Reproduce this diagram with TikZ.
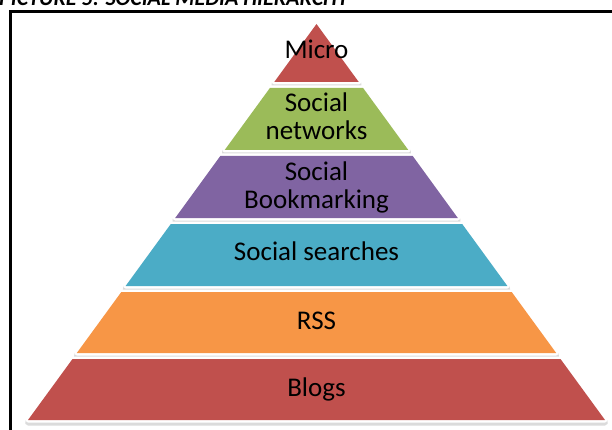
\documentclass[tikz,border=0pt]{standalone}
\usepackage{fontspec}
\setmainfont{Carlito}
\definecolor{cRed}{HTML}{C0504D}
\definecolor{cGreen}{HTML}{9BBB59}
\definecolor{cPurple}{HTML}{8064A2}
\definecolor{cBlue}{HTML}{4BACC6}
\definecolor{cOrange}{HTML}{F79646}
\tikzset{
  pMicro/.style={insert path={(316.5,24) -- (358.75,82) -- (274.25,82) -- cycle}},
  pNet/.style={insert path={(269.9,88) -- (363.1,88) -- (408.3,150) -- (224.7,150) -- cycle}},
  pBook/.style={insert path={(220.3,156) -- (412.7,156) -- (457.8,218) -- (175.2,218) -- cycle}},
  pSearch/.style={insert path={(170.8,224) -- (462.2,224) -- (507.4,286) -- (125.6,286) -- cycle}},
  pRss/.style={insert path={(121.3,292) -- (511.7,292) -- (556.2,353) -- (76.8,353) -- cycle}},
  pBlogs/.style={insert path={(72.5,359) -- (560.5,359) -- (605,420) -- (28,420) -- cycle}},
  shadowpath/.style={fill=black!14, draw=black!14, line width=6pt, line join=round, yshift=-2.5pt},
  outlinepath/.style={fill=white, draw=white, line width=5pt, line join=round},
  lbl/.style={font=\fontsize{27pt}{28pt}\selectfont, text=black, inner sep=0pt, align=center},
}
\begin{document}
\begin{tikzpicture}[x=1pt,y=-1pt]
\clip (0,0) rectangle (612,430);
\fill[white] (0,0) rectangle (612,430);
% title (partly cut off at the top)
\node[anchor=base west, inner sep=0pt, font=\fontsize{22pt}{24pt}\selectfont\bfseries\itshape] (title) at (-1,5.5) {PICTURE 5: SOCIAL MEDIA HIERARCHY};
% frame
\draw[line width=2.5pt] (640,11.5) -- (10.5,11.5) -- (10.5,460);
% shadows
\foreach \p in {pMicro,pNet,pBook,pSearch,pRss,pBlogs} {\path[shadowpath,\p];}
% white outlines
\foreach \p in {pMicro,pNet,pBook,pSearch,pRss,pBlogs} {\path[outlinepath,\p];}
% fills
\fill[cRed,pMicro];
\fill[cGreen,pNet];
\fill[cPurple,pBook];
\fill[cBlue,pSearch];
\fill[cOrange,pRss];
\fill[cRed,pBlogs];
% labels
\node[lbl, anchor=base] (micro) at (316.5,59) {Micro};
\node[lbl, anchor=base] (net) at (316.5,140) {Social\\networks};
\node[lbl, anchor=base] (book) at (316.5,208) {Social\\Bookmarking};
\node[lbl, anchor=base] (search) at (316.5,260.5) {Social searches};
\node[lbl, anchor=base] (rss) at (316.5,329) {RSS};
\node[lbl, anchor=base] (blogs) at (316.5,396) {Blogs};
\end{tikzpicture}
\end{document}
